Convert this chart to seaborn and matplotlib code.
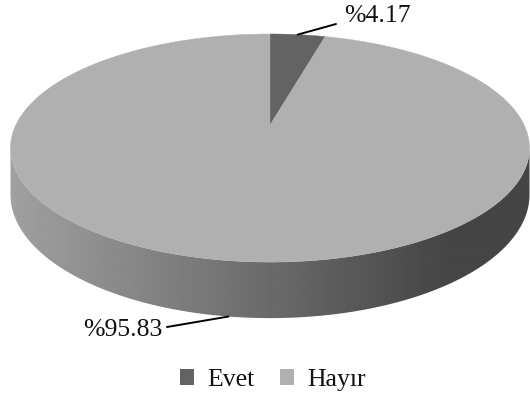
import numpy as np
import matplotlib
matplotlib.use("Agg")
import matplotlib.pyplot as plt
from matplotlib.patches import Polygon, Patch
import seaborn as sns

# ---- data ----
categories = ["Evet", "Hayır"]
values = [4.17, 95.83]
labels = ["%4.17", "%95.83"]
top_colors = ["#636363", "#b0b0b0"]

sns.set_theme(style="white")
plt.rcParams["font.family"] = ["Liberation Serif", "DejaVu Serif"]

fig = plt.figure(figsize=(5.30, 3.98), dpi=100)
ax = fig.add_axes([0, 0, 1, 1])
ax.set_xlim(0, 530)
ax.set_ylim(398, 0)
ax.axis("off")

# ---- 3D pie geometry (perspective) ----
cx, cy = 270.0, 125.0
k = 0.202            # perspective factor
s = 109.4            # vertical scale
sx = 259.5 * np.sqrt(1 - k * k)
h = 44.7             # thickness


def proj(t, z=0.0):
    X, Y = np.cos(t), np.sin(t)
    d = 1 + k * Y
    return cx + sx * X / d, cy - (s * Y + z) / d


# side (front visible part)
t_front = np.linspace(np.pi + np.arcsin(k), 2 * np.pi - np.arcsin(k), 300)
xt, yt = proj(t_front, 0.0)
xb, yb = proj(t_front[::-1], -h)
side_poly = Polygon(np.column_stack([np.r_[xt, xb], np.r_[yt, yb]]),
                    closed=True, facecolor="none", edgecolor="none")
ax.add_patch(side_poly)
xs = np.linspace(0, 530, 530)
grad = np.clip(0.63 - (0.63 - 0.27) * (xs - 10) / (450 - 10), 0.27, 0.63)
img = ax.imshow(grad[None, :], cmap="gray", vmin=0, vmax=1, aspect="auto",
                extent=[0, 530, 340, 120], interpolation="bilinear", zorder=1)
img.set_clip_path(side_poly)

# top slices
fracs = np.array(values) / np.sum(values)
start = np.pi / 2
mids = []
for frac, col in zip(fracs, top_colors):
    end = start - frac * 2 * np.pi
    tt = np.linspace(start, end, max(int(frac * 720), 8))
    px, py = proj(tt, 0.0)
    poly = Polygon(np.column_stack([np.r_[cx, px], np.r_[cy, py]]), closed=True,
                   facecolor=col, edgecolor=col, linewidth=0.3, zorder=2)
    ax.add_patch(poly)
    mids.append((start + end) / 2)
    start = end

# labels with leader lines
mx, my = proj(mids[0], 0.0)
ax.plot([mx, 336], [my, 24], color="black", lw=1.4, zorder=3)
ax.text(344, 16, labels[0], fontsize=18.5, ha="left", va="center", color="#111111")

mx, my = proj(mids[1], -h)
ax.plot([mx, 167], [my, 327], color="black", lw=1.4, zorder=3)
ax.text(163, 330, labels[1], fontsize=18.5, ha="right", va="center", color="#111111")

# legend
handles = [Patch(facecolor=c, edgecolor="none", label=l) for c, l in zip(top_colors, categories)]
ax.legend(handles=handles, loc="center", bbox_to_anchor=(273 / 530, 1 - 380 / 398),
          ncol=2, frameon=False, fontsize=18.5, handlelength=0.55, handleheight=0.55,
          handletextpad=0.5, columnspacing=1.0, labelcolor="#111111")

fig.savefig("out.png", dpi=100, facecolor="white")
